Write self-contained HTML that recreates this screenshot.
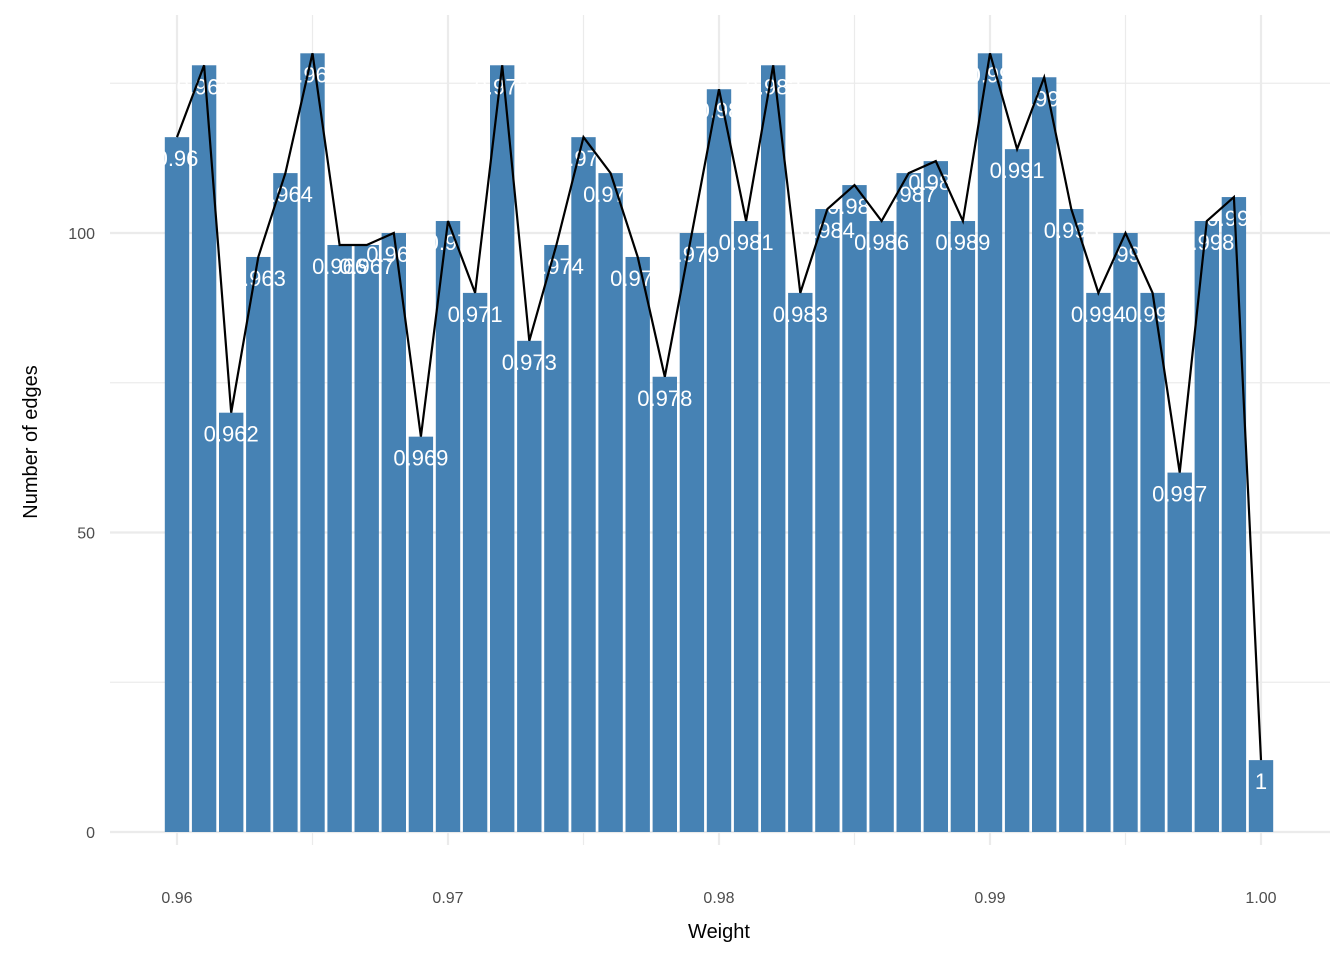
<!DOCTYPE html>
<html><head><meta charset="utf-8"><style>
body{margin:0;background:#fff;}
svg{display:block;font-family:"Liberation Sans","DejaVu Sans",sans-serif;}
</style></head><body>
<svg id="chart" width="1344" height="960">
<g id="grid"></g>
<g id="bars"></g>
<g id="labels"></g>
<g id="line"></g>
<g id="axes"></g>
<text x="719" y="938" text-anchor="middle" font-size="20" fill="#000">Weight</text>
<text transform="translate(37,442) rotate(-90)" text-anchor="middle" font-size="20" fill="#000">Number of edges</text>
</svg>
<script>
const weights = [0.960,0.961,0.962,0.963,0.964,0.965,0.966,0.967,0.968,0.969,0.970,0.971,0.972,0.973,0.974,0.975,0.976,0.977,0.978,0.979,0.980,0.981,0.982,0.983,0.984,0.985,0.986,0.987,0.988,0.989,0.990,0.991,0.992,0.993,0.994,0.995,0.996,0.997,0.998,0.999,1.000];
const counts = [116,128,70,96,110,130,98,98,100,66,102,90,128,82,98,116,110,96,76,100,124,102,128,90,104,108,102,110,112,102,130,114,126,104,90,100,90,60,102,106,12];
const xTicks = [0.96,0.97,0.98,0.99,1.00];
const xTickLabels = ["0.96","0.97","0.98","0.99","1.00"];
const yTicks = [0,50,100];
const yTickLabels = ["0","50","100"];

const NS="http://www.w3.org/2000/svg";
const X0=110,X1=1330,Y0=15,Y1=845;
const xs=v=>177+(v-0.96)*27100;
const ys=v=>832-v*5.99;
function mk(parent,tag,attrs){const e=document.createElementNS(NS,tag);for(const k in attrs)e.setAttribute(k,attrs[k]);document.getElementById(parent).appendChild(e);return e;}
const step=0.001*27100;
// grid minor
for(let i=0;i<xTicks.length-1;i++){const x=xs((xTicks[i]+xTicks[i+1])/2);const l=mk('grid','line',{x1:x,x2:x,y1:Y0,y2:Y1,stroke:'#ebebeb','stroke-width':1.2});}
[25,75,125].forEach(v=>{const l=mk('grid','line',{x1:X0,x2:X1,y1:ys(v),y2:ys(v),stroke:'#ebebeb','stroke-width':1.2});});
xTicks.forEach((t,i)=>{const x=xs(t);const l=mk('grid','line',{x1:x,x2:x,y1:Y0,y2:Y1,stroke:'#ebebeb','stroke-width':2.2});
const tx=mk('axes','text',{x:x,y:903,'text-anchor':'middle','font-size':16,fill:'#4d4d4d'});tx.textContent=xTickLabels[i];});
yTicks.forEach((t,i)=>{const y=ys(t);const l=mk('grid','line',{x1:X0,x2:X1,y1:y,y2:y,stroke:'#ebebeb','stroke-width':2.2});
const tx=mk('axes','text',{x:95,y:y+6,'text-anchor':'end','font-size':16,fill:'#4d4d4d'});tx.textContent=yTickLabels[i];});
const bw=step*0.9;
let pts=[];
weights.forEach((w,i)=>{const x=xs(w),y=ys(counts[i]);
const r=mk('bars','rect',{x:x-bw/2,y:y,width:bw,height:ys(0)-y,fill:'#4682b4'});
const t=mk('labels','text',{x:x,y:y+29,'text-anchor':'middle','font-size':22,fill:'#fff'});t.textContent=String(parseFloat(w.toFixed(3)));
pts.push(x+','+y);});
const p=mk('line','polyline',{points:pts.join(' '),fill:'none',stroke:'#000','stroke-width':2.2});


</script>
</body></html>
